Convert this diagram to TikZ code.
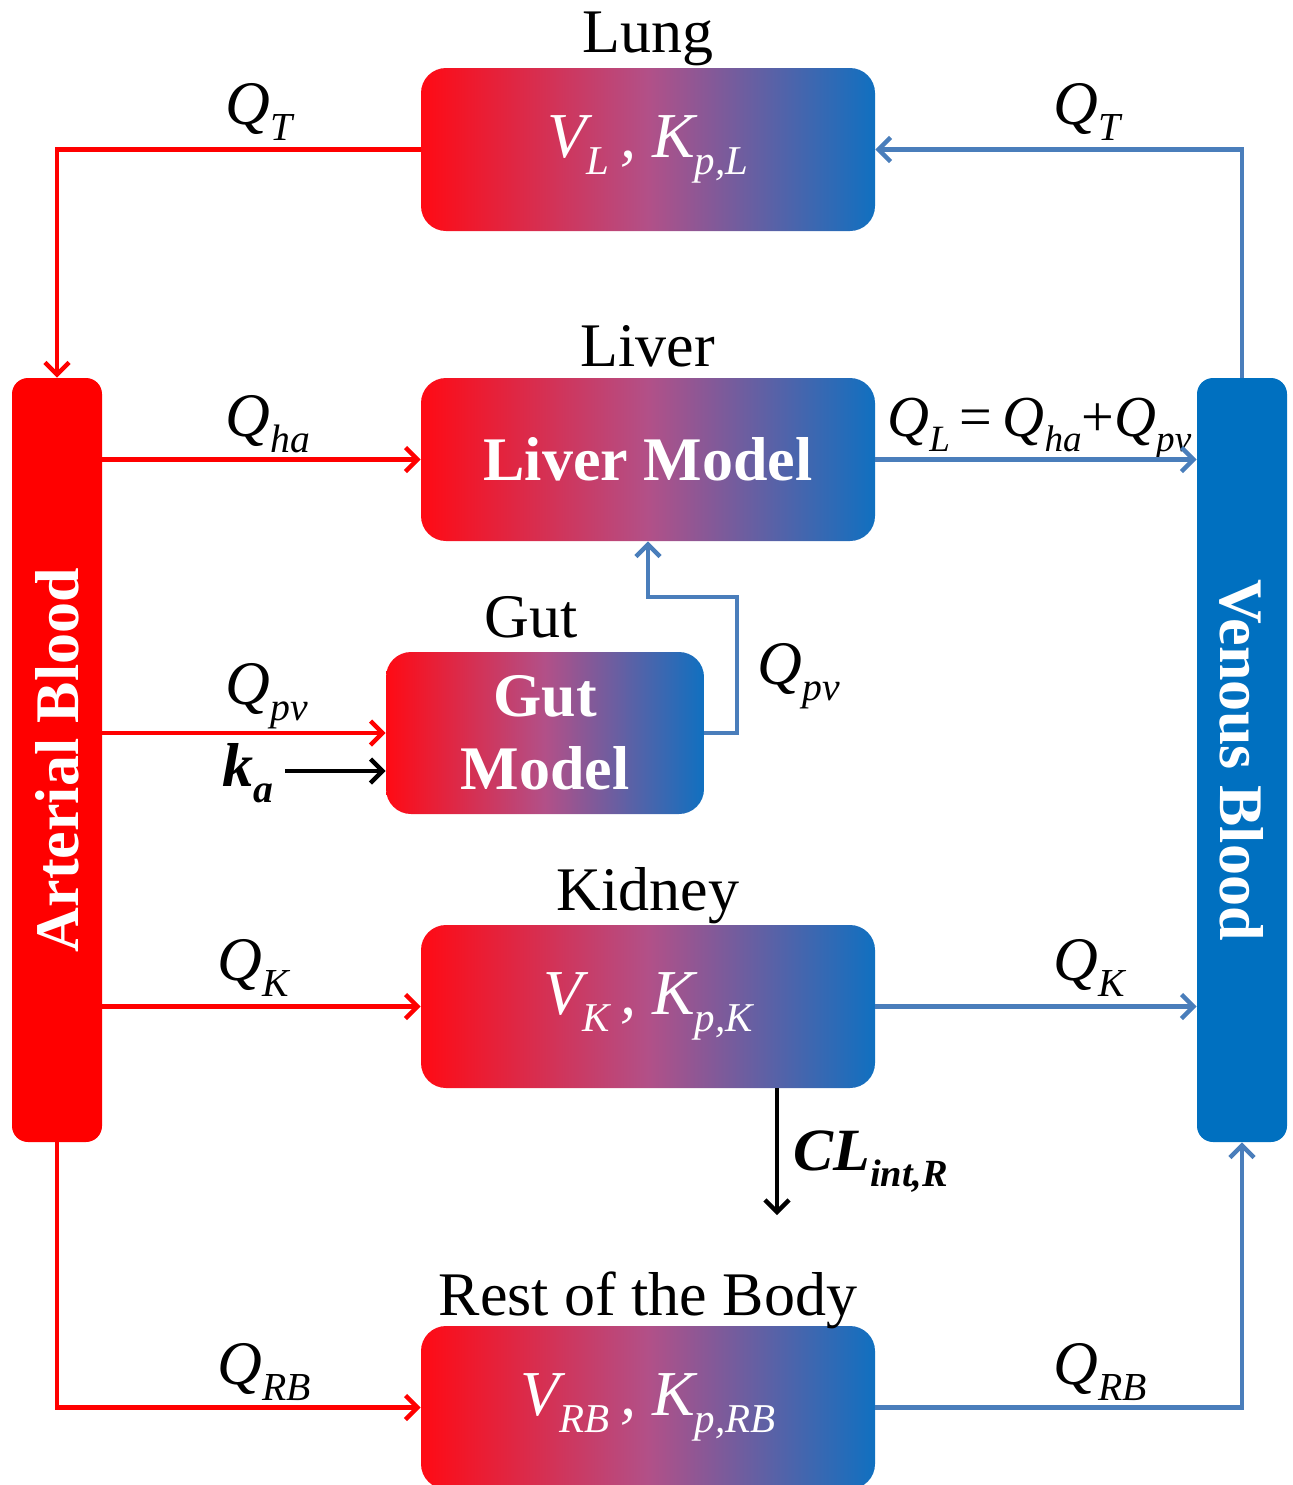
\documentclass[tikz,border=0pt]{standalone}
\usepackage{fontspec}
\setmainfont{Liberation Serif}
\usepackage{graphicx}
\usetikzlibrary{arrows.meta}
\definecolor{ared}{RGB}{255,0,0}
\definecolor{vblue}{RGB}{0,112,192}
\definecolor{lblue}{RGB}{74,126,187}
\definecolor{gleft}{RGB}{255,10,20}
\definecolor{gmid}{RGB}{178,80,136}
\definecolor{gright}{RGB}{16,112,192}
\newcommand\isub[1]{\raisebox{-0.27em}{\scalebox{0.64}{#1}}}
\tikzset{
  x=0.5pt, y=-0.5pt,
  organ/.style={rounded corners=12.5pt, minimum width=227pt, minimum height=81.5pt,
    inner sep=0pt, left color=gleft, right color=gright, middle color=gmid,
    text=white, font=\fontsize{32}{36.5}\selectfont},
  blood/.style={rounded corners=8pt, minimum width=45pt, minimum height=382pt,
    inner sep=0pt, text=white, font=\fontsize{31}{36}\selectfont\bfseries},
  lbl/.style={font=\fontsize{31}{36}\selectfont, inner sep=0pt, anchor=base},
  qlbl/.style={font=\fontsize{31}{36}\selectfont\itshape, inner sep=0pt, anchor=base west},
  arr/.style={-{Straight Barb[length=6pt,width=12pt]}, line width=2.2pt},
  rline/.style={arr, draw=ared},
  bline/.style={arr, draw=lblue},
  kline/.style={arr, draw=black},
}
\begin{document}
\begin{tikzpicture}
\useasboundingbox (0,0) rectangle (1293,1485);
% blood compartments
\node[blood, fill=ared] (art) at (57,760) {\rotatebox{90}{Arterial Blood}};
\node[blood, fill=vblue] (ven) at (1242,760) {\rotatebox{-90}{Venous Blood}};
% organs
\node[organ] (lung) at (648,149.5) {\itshape V\isub{L}\,, K\isub{p,L}};
\node[organ, font=\fontsize{31}{36.5}\selectfont\bfseries] (liver) at (648,459.5) {Liver Model};
\node[organ, font=\fontsize{31}{36.5}\selectfont\bfseries, minimum width=159pt, minimum height=81pt, align=center] (gut) at (545,733) {Gut\\Model};
\node[organ] (kid) at (648,1006.5) {\itshape V\isub{K}\,, K\isub{p,K}};
\node[organ] (rb) at (648,1407.5) {\itshape V\isub{RB}\,, K\isub{p,RB}};
% organ titles
\node[lbl] (tlung) at (648,52) {Lung};
\node[lbl] (tliver) at (648,366) {Liver};
\node[lbl] (tgut) at (531,637) {Gut};
\node[lbl] (tkid) at (648,910) {Kidney};
\node[lbl] (trb) at (648,1315) {Rest of the Body};
% flow labels
\node[qlbl] (q1) at (225,124) {Q\isub{T}};
\node[qlbl] (q2) at (1053,124) {Q\isub{T}};
\node[qlbl] (q3) at (225,436) {Q\isub{ha}};
\node[qlbl, font=\fontsize{29}{36}\selectfont\itshape] (q4) at (887,436) {Q\isub{L}\kern5pt\upshape=\kern5pt\itshape Q\isub{ha}\upshape+\itshape Q\isub{pv}};
\node[qlbl] (q5) at (225,704) {Q\isub{pv}};
\node[qlbl, font=\fontsize{31}{36}\selectfont\itshape\bfseries] (ka) at (222,786) {k\isub{a}};
\node[qlbl] (q6) at (757,684) {Q\isub{pv}};
\node[qlbl] (q7) at (217,980) {Q\isub{K}};
\node[qlbl] (q8) at (1053,980) {Q\isub{K}};
\node[qlbl, font=\fontsize{30}{36}\selectfont\itshape\bfseries] (cl) at (793,1170) {CL\isub{int,R}};
\node[qlbl] (q9) at (217,1384) {Q\isub{RB}};
\node[qlbl] (q10) at (1053,1384) {Q\isub{RB}};
% helper coordinates
\coordinate (kastart) at (285,771);
\coordinate (gt) at (737,597);
\coordinate (kidout) at (777,1088);
\coordinate (clend) at (777,1215);
% connectors
\draw[rline] (lung.west) -| (art.north);
\draw[bline] (ven.north) |- (lung.east);
\draw[rline] (art.east |- liver.west) -- (liver.west);
\draw[bline] (liver.east) -- (ven.west |- liver.east);
\draw[rline] (art.east |- gut.west) -- (gut.west);
\draw[kline] (kastart) -- (gut.west |- kastart);
\draw[bline] (gut.east) -| (gt) -| (liver.south);
\draw[rline] (art.east |- kid.west) -- (kid.west);
\draw[bline] (kid.east) -- (ven.west |- kid.east);
\draw[kline] (kidout) -- (clend);
\draw[rline] (art.south) |- (rb.west);
\draw[bline] (rb.east) -| (ven.south);
\end{tikzpicture}
\end{document}
